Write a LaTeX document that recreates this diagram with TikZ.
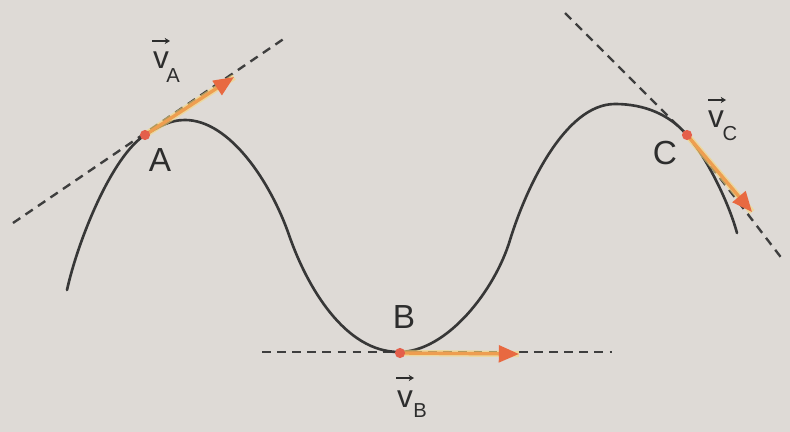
\documentclass[tikz,border=0pt]{standalone}
\usepackage{fontspec}
\setmainfont{Liberation Sans}
\usetikzlibrary{arrows.meta}
\definecolor{bgc}{RGB}{222,218,214}
\definecolor{curvec}{RGB}{55,55,55}
\definecolor{dashc}{RGB}{62,62,62}
\definecolor{shaftc}{RGB}{238,158,80}
\definecolor{glowc}{RGB}{246,214,120}
\definecolor{headc}{RGB}{232,105,65}
\definecolor{dotc}{RGB}{228,95,75}
\definecolor{txtc}{RGB}{45,45,45}
\tikzset{
  curveline/.style={draw=curvec, line width=1.5pt, line cap=round},
  tangent/.style={draw=dashc, line width=1.35pt, dash pattern=on 5pt off 3.6pt},
  glow/.style={draw=glowc, line width=3.6pt, opacity=0.6},
  velarrow/.style={draw=shaftc, line width=1.9pt, -{Triangle[length=11.5pt,width=9.5pt,color=headc]}},
  dotpt/.style={circle, fill=dotc, minimum size=5.8pt, inner sep=0pt},
  ptlabel/.style={inner sep=0pt, text=txtc, font=\fontsize{19}{19}\selectfont},
  vlabel/.style={inner sep=0pt, text=txtc, font=\fontsize{18}{18}\selectfont},
  sublabel/.style={inner sep=0pt, text=txtc, font=\fontsize{11.5}{11.5}\selectfont},
  vecmark/.style={draw=txtc, line width=1.2pt, -{Stealth[length=3pt,width=3.5pt]}}
}
\begin{document}
\begin{tikzpicture}[x=0.02cm, y=-0.02cm]
\fill[bgc] (0,0) rectangle (790,432);
\useasboundingbox (0,0) rectangle (790,432);

% key points
\coordinate (A) at (145,135);
\coordinate (B) at (400,353);
\coordinate (C) at (687,135);

% tangent lines
\coordinate (tA1) at (13,223);
\coordinate (tA2) at (285,38);
\coordinate (tB1) at (262,352);
\coordinate (tB2) at (612,352);
\coordinate (tC1) at (565,13);
\coordinate (tC2) at (783,260);
\draw[tangent] (tA1) -- (tA2);
\draw[tangent] (tB1) -- (tB2);
\draw[tangent] (tC1) -- (C) -- (tC2);

% trajectory
\draw[curveline] (67,290) .. controls (78,240) and (112,156) .. (A)
  .. controls (160,126) and (170,120) .. (185,120)
  .. controls (230,120) and (271,183) .. (289,235)
  .. controls (307,287) and (345,352) .. (399,352)
  .. controls (447,352) and (495,290) .. (510,240)
  .. controls (526,188) and (565,104) .. (615,104)
  .. controls (645,104) and (670,115) .. (C)
  .. controls (705,155) and (728,200) .. (737,233);

% velocity vectors
\coordinate (vtA) at (234,77);
\coordinate (vtB) at (519,354);
\coordinate (vtC) at (752,212);
\draw[glow] (A) -- (vtA);
\draw[glow] (B) -- (vtB);
\draw[glow] (C) -- (vtC);
\draw[velarrow] (A) -- (vtA);
\draw[velarrow] (B) -- (vtB);
\draw[velarrow] (C) -- (vtC);

\node[dotpt] (dA) at (A) {};
\node[dotpt] (dB) at (B) {};
\node[dotpt] (dC) at (C) {};

% point labels
\node[ptlabel] (lA) at (160,160) {A};
\node[ptlabel] (lB) at (404,317) {B};
\node[ptlabel] (lC) at (665,153) {C};

% velocity labels
\node[vlabel] (vA) at (161,60) {v};
\node[sublabel] (sA) at (173,76) {A};
\coordinate (mA1) at (152,41);
\coordinate (mA2) at (170,41);
\draw[vecmark] (mA1) -- (mA2);

\node[vlabel] (vB) at (405,399) {v};
\node[sublabel] (sB) at (420,411) {B};
\coordinate (mB1) at (396,378);
\coordinate (mB2) at (414,378);
\draw[vecmark] (mB1) -- (mB2);

\node[vlabel] (vC) at (716,119) {v};
\node[sublabel] (sC) at (730,134) {C};
\coordinate (mC1) at (708,100);
\coordinate (mC2) at (726,100);
\draw[vecmark] (mC1) -- (mC2);
\end{tikzpicture}
\end{document}
